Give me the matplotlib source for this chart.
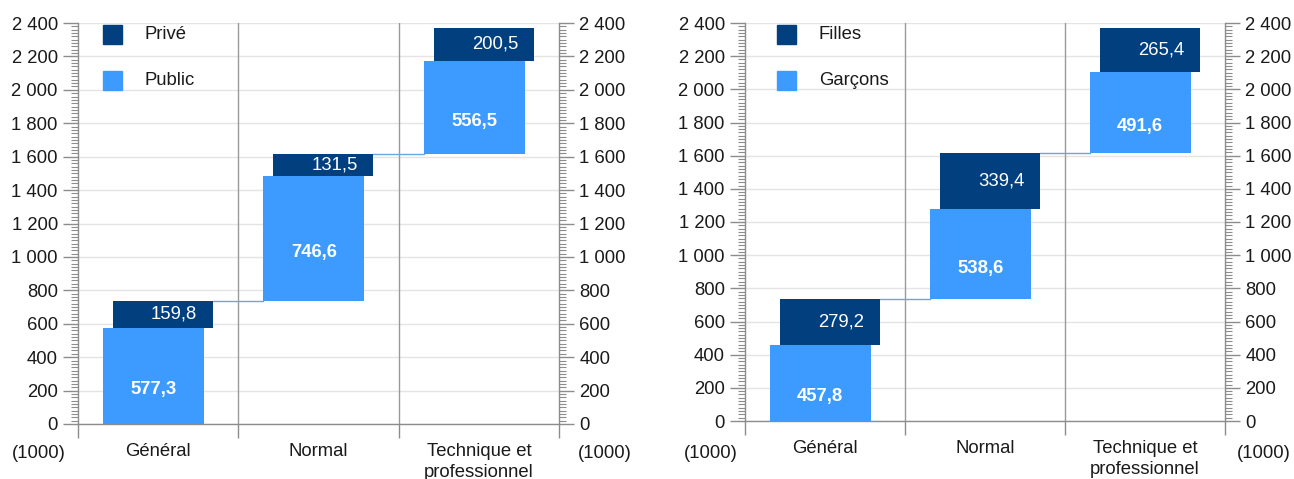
import matplotlib
matplotlib.use("Agg")
import matplotlib.pyplot as plt
from matplotlib.patches import Rectangle
from matplotlib.ticker import FuncFormatter, MultipleLocator, FixedLocator
import numpy as np

plt.rcParams['font.family'] = ['Liberation Sans', 'DejaVu Sans']

categories = ["Général", "Normal", "Technique et\nprofessionnel"]
public = [577.3, 746.6, 556.5]
prive = [159.8, 131.5, 200.5]
garcons = [457.8, 538.6, 491.6]
filles = [279.2, 339.4, 265.4]

DARK = "#023f7e"
LIGHT = "#3d9bff"
LINE = "#6aa6e0"
GRAY = "#8c8c8c"
TXT = "#1a1a1a"
FS = 13.3

W, H = 1294, 479
fig = plt.figure(figsize=(W / 100, H / 100), dpi=100)


def fmt(v, pos):
    return f"{int(round(v)):,}".replace(",", " ")


def dec(v):
    return f"{v:.1f}".replace(".", ",")


def panel(rect, low_vals, high_vals, low_name, high_name, leg_x, thousands_x):
    ax = fig.add_axes(rect)
    n = len(categories)
    low = np.array(low_vals)
    high = np.array(high_vals)
    base = np.concatenate([[0], np.cumsum(low + high)[:-1]])
    x0 = np.arange(n)
    wl, wd = 0.63, 0.625
    cl, cd = 0.47, 0.53
    ax.bar(x0 + cl, low, width=wl, bottom=base, color=LIGHT, zorder=3)
    ax.bar(x0 + cd, high, width=wd, bottom=base + low, color=DARK, zorder=3)
    tops = base + low + high
    for i in range(n):
        ax.annotate(dec(low[i]), (x0[i] + cl, base[i] + low[i] / 2),
                    xytext=(0, -10), textcoords="offset points",
                    color="white", fontsize=FS, fontweight="bold",
                    ha="center", va="center", zorder=5)
        ax.text(x0[i] + 0.60, base[i] + low[i] + high[i] / 2, dec(high[i]),
                color="white", fontsize=FS, ha="center", va="center", zorder=5)
        if i < n - 1:
            ax.plot([x0[i] + cd + wd / 2, x0[i + 1] + cl - wl / 2], [tops[i], tops[i]],
                    color=LINE, lw=1, zorder=2)

    ax.set_xlim(0, n)
    ax.set_ylim(0, 2400)
    ax.yaxis.set_major_locator(MultipleLocator(200))
    ax.yaxis.set_minor_locator(MultipleLocator(20))
    ax.yaxis.set_major_formatter(FuncFormatter(fmt))
    ax.yaxis.set_ticks_position("both")
    ax.tick_params(axis="y", which="major", length=10.5, width=1, color=GRAY, direction="out",
                   labelsize=FS, labelcolor=TXT, pad=4, labelright=True, labelleft=True)
    ax.tick_params(axis="y", which="minor", length=5, width=0.8, color=GRAY, direction="out")
    ax.grid(axis="y", which="major", color="#e4e4e4", lw=1, zorder=0)
    ax.set_axisbelow(True)

    ax.xaxis.set_major_locator(FixedLocator(list(range(n + 1))))
    ax.xaxis.set_major_formatter(FuncFormatter(lambda v, p: ""))
    ax.xaxis.set_minor_locator(FixedLocator([i + 0.5 for i in range(n)]))
    ax.set_xticklabels(categories, minor=True, linespacing=1.3)
    ax.tick_params(axis="x", which="major", length=10, width=1, color=GRAY, direction="out")
    ax.tick_params(axis="x", which="minor", length=0, pad=14, labelsize=FS, labelcolor=TXT)
    for xv in range(1, n):
        ax.axvline(xv, color="#9a9a9a", lw=1, zorder=1)

    for s in ("left", "right", "bottom"):
        ax.spines[s].set_color(GRAY)
        ax.spines[s].set_linewidth(1)
    ax.spines["top"].set_visible(False)

    # legend
    bw, bh = 19 / (rect[2] * W), 19 / (rect[3] * H)
    for name, col, ytop in [(high_name, DARK, 25), (low_name, LIGHT, 71)]:
        ypix_bottom = ytop + 19
        yb = ((1 - rect[1]) * H - ypix_bottom) / (rect[3] * H)
        ax.add_patch(Rectangle((leg_x, yb), bw, bh, transform=ax.transAxes,
                               facecolor=col, edgecolor=col, zorder=6, clip_on=False))
        ax.text(leg_x + 42 / (rect[2] * W), yb + bh / 2, name, transform=ax.transAxes,
                fontsize=FS, color=TXT, va="center", ha="left", zorder=6)

    for xp, ha in thousands_x:
        fig.text(xp / W, 1 - 454 / H, "(1000)", fontsize=FS, color=TXT,
                 ha=ha, va="center")
    return ax


panel([78 / W, 1 - 424 / H, 481 / W, 401 / H], public, prive, "Public", "Privé",
      25 / 481, [(39, "center"), (605, "center")])
panel([745 / W, 1 - 421 / H, 480 / W, 398 / H], garcons, filles, "Garçons", "Filles",
      32 / 480, [(711, "center"), (1291, "right")])

fig.savefig("out.png", dpi=100)
